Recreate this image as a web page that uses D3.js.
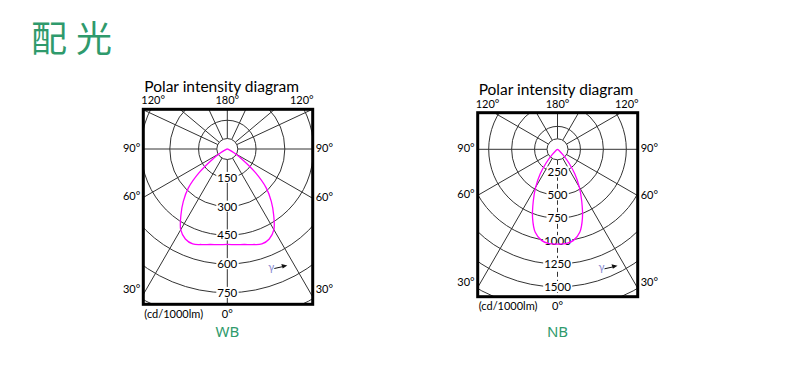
<!DOCTYPE html>
<html>
<head>
<meta charset="utf-8">
<script src="https://cdn.jsdelivr.net/npm/d3@7"></script>
<style>
  body { margin: 0; background: #fff; }
  svg { display: block; }
</style>
</head>
<body>
<div class="graph"></div>
<script>
// Data
var pageTitle = "配光";
var panelNames = ["WB", "NB"];
var gammaDeg = [0, 5, 10, 15, 20, 25, 30, 35, 40, 45, 50, 55, 60, 65, 70, 75, 80, 85, 90];
var wbIntensity = [498, 501, 506, 516, 527, 518, 486, 422, 357, 287, 192, 97, 40, 14, 3, 0, 0, 0, 0];
var nbIntensity = [1033, 1032, 1008, 937, 795, 625, 474, 330, 191, 82, 25, 5, 0, 0, 0, 0, 0, 0, 0];
var wbRings = [150, 300, 450, 600, 750, 900];
var wbRingLabels = [150, 300, 450, 600, 750];
var nbRings = [250, 500, 750, 1000, 1250, 1500, 1750];
var nbRingLabels = [250, 500, 750, 1000, 1250, 1500];
var wbSpokes = [0, 30, 60, 90, 115, 130, 155, 180];
var nbSpokes = [0, 30, 60, 90, 120, 150, 180];
var sideLabels = [90, 60, 30];
var topLabels = ["120°", "180°", "120°"];
var chartTitle = "Polar intensity diagram";
var unitLabel = "(cd/1000lm)";
var bottomLabel = "0°";

var green = "#2f9a6c";
var font = "Lato, 'Open Sans', sans-serif";

var svg = d3.select(".graph").append("svg")
    .attr("width", 788)
    .attr("height", 371);

svg.append("text")
    .attr("x", 31)
    .attr("y", 52)
    .attr("fill", green)
    .style("font-family", "'Noto Sans CJK SC', sans-serif")
    .style("font-size", "36px")
    .style("letter-spacing", "9px")
    .text(pageTitle);

var panels = [
  {name: panelNames[0], values: wbIntensity, rings: wbRings, ringLabels: wbRingLabels, spokes: wbSpokes,
   x0: 143.3, x1: 312.7, y0: 109.3, y1: 304.3, cx: 227.3, cy: 149, maxV: 750, maxR: 143.75, dashed: false},
  {name: panelNames[1], values: nbIntensity, rings: nbRings, ringLabels: nbRingLabels, spokes: nbSpokes,
   x0: 477.7, x1: 637.7, y0: 112.7, y1: 296.7, cx: 557.5, cy: 149.3, maxV: 1500, maxR: 137.6, dashed: true}
];

var hubR = 10.5;
var gridColor = "#333";

panels.forEach(function(p, i) {
  var r = d3.scaleLinear().domain([0, p.maxV]).range([0, p.maxR]);
  var g = svg.append("g");

  // clip to the frame
  var clipId = "clip" + i;
  svg.append("clipPath").attr("id", clipId)
    .append("rect")
    .attr("x", p.x0).attr("y", p.y0)
    .attr("width", p.x1 - p.x0).attr("height", p.y1 - p.y0);

  var inner = g.append("g").attr("clip-path", "url(#" + clipId + ")");

  // rings
  inner.selectAll(".ring")
    .data(p.rings)
    .enter().append("circle")
    .attr("cx", p.cx).attr("cy", p.cy)
    .attr("r", function(d) { return r(d); })
    .attr("fill", "none")
    .attr("stroke", gridColor)
    .attr("stroke-width", 1);

  // spokes, mirrored on both sides
  var spokeData = [];
  p.spokes.forEach(function(a) {
    spokeData.push({a: a, s: 1});
    if (a > 0 && a < 180) spokeData.push({a: a, s: -1});
  });
  inner.selectAll(".spoke")
    .data(spokeData)
    .enter().append("line")
    .attr("x1", function(d) { return p.cx + d.s * hubR * Math.sin(d.a * Math.PI / 180); })
    .attr("y1", function(d) { return p.cy + hubR * Math.cos(d.a * Math.PI / 180); })
    .attr("x2", function(d) { return p.cx + d.s * 400 * Math.sin(d.a * Math.PI / 180); })
    .attr("y2", function(d) { return p.cy + 400 * Math.cos(d.a * Math.PI / 180); })
    .attr("stroke", gridColor)
    .attr("stroke-width", 1)
    .attr("stroke-dasharray", function(d) { return (d.a === 0 && p.dashed) ? "5,3" : null; });

  // hub
  inner.append("circle")
    .attr("cx", p.cx).attr("cy", p.cy).attr("r", hubR)
    .attr("fill", "#fff")
    .attr("stroke", gridColor)
    .attr("stroke-width", 1);

  // ring labels with white backing
  var lab = inner.selectAll(".rl")
    .data(p.ringLabels)
    .enter().append("g");
  lab.append("text")
    .attr("x", p.cx)
    .attr("y", function(d) { return p.cy + r(d); })
    .attr("dy", "0.36em")
    .attr("text-anchor", "middle")
    .style("font-family", font)
    .style("font-size", "11.5px")
    .attr("fill", "#000")
    .text(function(d) { return d; });
  lab.each(function() {
    var t = d3.select(this).select("text");
    var b = t.node().getBBox();
    d3.select(this).insert("rect", "text")
      .attr("x", b.x - 1).attr("y", b.y + 1)
      .attr("width", b.width + 2).attr("height", b.height - 2)
      .attr("fill", "#fff");
  });

  // intensity curve: right half, tip, left half
  var pts = [];
  var firstZero = p.values.indexOf(0);
  for (var k = 0; k < firstZero; k++) pts.push({a: Math.PI - gammaDeg[k] * Math.PI / 180, v: p.values[k]});
  pts.push({a: Math.PI / 2, v: 0});
  for (var k2 = firstZero - 1; k2 > 0; k2--) pts.push({a: Math.PI + gammaDeg[k2] * Math.PI / 180, v: p.values[k2]});

  var curve = d3.lineRadial()
    .angle(function(d) { return d.a; })
    .radius(function(d) { return r(d.v); })
    .curve(d3.curveCatmullRomClosed.alpha(0.5));

  inner.append("path")
    .attr("transform", "translate(" + p.cx + "," + p.cy + ")")
    .attr("d", curve(pts))
    .attr("fill", "none")
    .attr("stroke", "#f0f")
    .attr("stroke-width", 1.3);

  // gamma marker
  inner.append("text")
    .attr("x", p.cx + 41).attr("y", p.cy + 122)
    .style("font-family", font)
    .style("font-size", "11px")
    .attr("fill", "#8c8cd0")
    .text("γ");
  inner.append("line")
    .attr("x1", p.cx + 47).attr("y1", p.cy + 119.5)
    .attr("x2", p.cx + 56).attr("y2", p.cy + 117.5)
    .attr("stroke", "#111").attr("stroke-width", 1);
  inner.append("path")
    .attr("d", "M" + (p.cx + 60) + "," + (p.cy + 116.5) + " l-6,-1.6 l1.4,4.6 z")
    .attr("fill", "#111");

  // frame
  g.append("rect")
    .attr("x", p.x0).attr("y", p.y0)
    .attr("width", p.x1 - p.x0).attr("height", p.y1 - p.y0)
    .attr("fill", "none")
    .attr("stroke", "#000")
    .attr("stroke-width", 3);

  // title
  g.append("text")
    .attr("x", p.x0 + 1).attr("y", p.y0 - 17.5)
    .style("font-family", font)
    .style("font-size", "15.5px")
    .attr("fill", "#000")
    .text(chartTitle);

  // top angle labels
  var topX = [p.x0 - 2, p.cx, p.x1 + 1];
  var topAnchor = ["start", "middle", "end"];
  topLabels.forEach(function(t, j) {
    g.append("text")
      .attr("x", topX[j]).attr("y", p.y0 - 5)
      .attr("text-anchor", topAnchor[j])
      .style("font-family", font)
      .style("font-size", "11px")
      .attr("fill", "#000")
      .text(t);
  });

  // side angle labels where the gamma lines meet the frame
  sideLabels.forEach(function(a) {
    var tanA = Math.tan(a * Math.PI / 180);
    var yl = a === 90 ? p.cy : p.cy + (p.cx - p.x0) / tanA;
    var yr = a === 90 ? p.cy : p.cy + (p.x1 - p.cx) / tanA;
    var base = function(y) { return Math.min(y + 3, p.y1 - 11); };
    g.append("text")
      .attr("x", p.x0 - 3).attr("y", base(yl))
      .attr("text-anchor", "end")
      .style("font-family", font).style("font-size", "11px").attr("fill", "#000")
      .text(a + "°");
    g.append("text")
      .attr("x", p.x1 + 3).attr("y", base(yr))
      .attr("text-anchor", "start")
      .style("font-family", font).style("font-size", "11px").attr("fill", "#000")
      .text(a + "°");
  });

  // bottom labels
  g.append("text")
    .attr("x", p.x0 + 1).attr("y", p.y1 + 13.5)
    .style("font-family", font).style("font-size", "11px").attr("fill", "#000")
    .text(unitLabel);
  g.append("text")
    .attr("x", p.cx).attr("y", p.y1 + 13.5)
    .attr("text-anchor", "middle")
    .style("font-family", font).style("font-size", "11px").attr("fill", "#000")
    .text(bottomLabel);

  // panel name
  svg.append("text")
    .attr("x", p.cx).attr("y", 337)
    .attr("text-anchor", "middle")
    .style("font-family", "'Noto Sans', sans-serif")
    .style("font-size", "15px")
    .attr("fill", green)
    .text(p.name);
});
</script>
</body>
</html>
